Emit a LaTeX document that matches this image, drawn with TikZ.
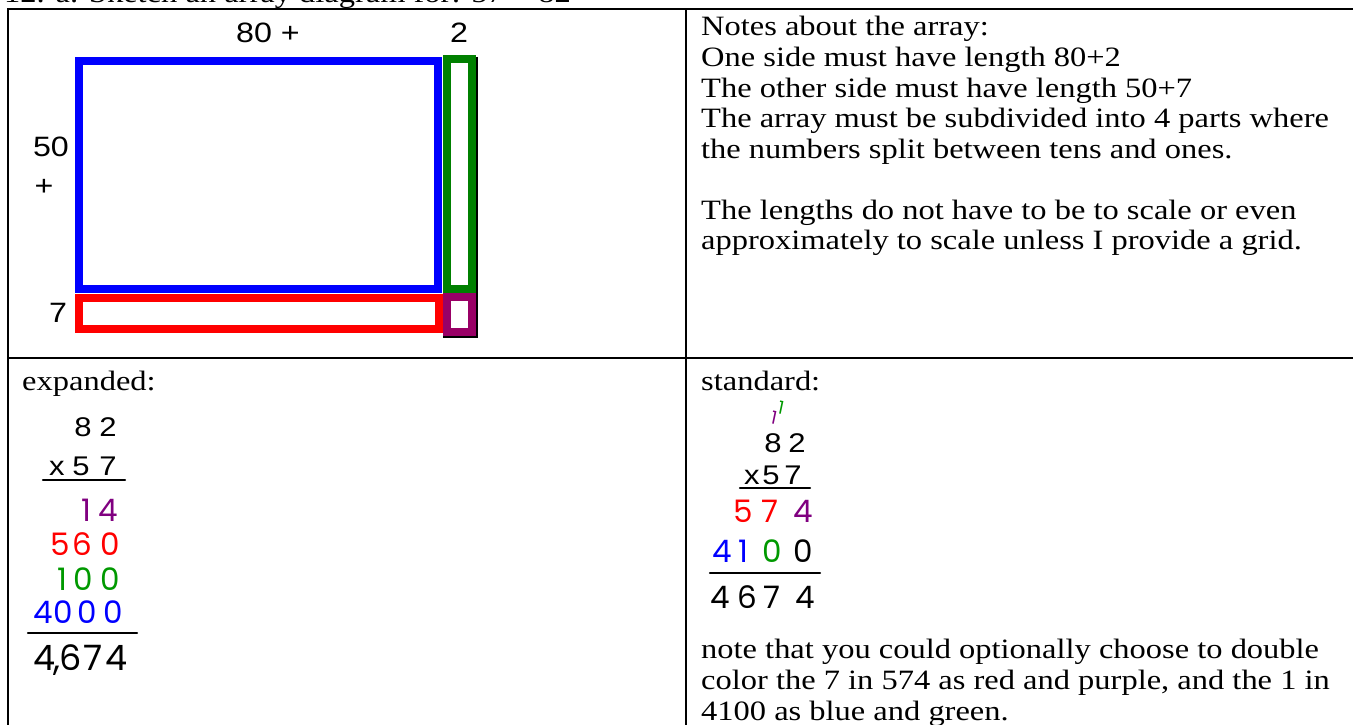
\documentclass[tikz,border=0pt]{standalone}
\usepackage{fontspec}
\setmainfont{Liberation Serif}[FakeStretch=1.16]
\newfontfamily\arialf{Liberation Sans}[FakeStretch=1.15]
\newfontfamily\hwf{Poppins}
\begin{document}
\begin{tikzpicture}[x=1pt,y=-1pt,
  txt/.style={anchor=base west, inner sep=0pt, font=\fontsize{28}{31}\selectfont},
  lbl/.style={inner sep=0pt, font=\arialf\fontsize{28}{28}\selectfont},
  prn/.style={inner sep=0pt, font=\arialf\fontsize{27}{27}\selectfont},
  hwd/.style={inner sep=0pt, font=\hwf\fontsize{31}{31}\selectfont},
  hwbig/.style={inner sep=0pt, font=\hwf\fontsize{35}{35}\selectfont},
  carry/.style={inner sep=0pt, font=\hwf\fontsize{18}{18}\selectfont, rotate=-12},
  cellbox/.style={line width=8pt},
  tabrule/.style={line width=2.5pt},
  sumrule/.style={line width=2.4pt, line cap=round},
  shadow/.style={line width=1.6pt, black}
]
\useasboundingbox (0,0) rectangle (1353,725);
\clip (0,0) rectangle (1353,725);
\fill[white] (0,0) rectangle (1353,725);

% title (clipped at top)
\node[txt] (title) at (4,3) {12. a. Sketch an array diagram for: 57 × 82};

% table rules
\draw[tabrule] (1353,9) -- (8,9) -- (8,725);
\draw[tabrule] (686,9) -- (686,725);
\draw[tabrule] (8,358) -- (1353,358);

% array diagram
\draw[shadow] (477,57) -- (477,337) -- (443,337);
\draw[cellbox, blue] (79,61) rectangle (438,289);
\draw[cellbox, green!50!black] (447,59) rectangle (472,289);
\draw[cellbox, red] (79,298) rectangle (439,329);
\draw[cellbox, violet!60!purple] (447,297) rectangle (472,332);

\node[lbl] (l80) at (268,33) {80 +};
\node[lbl] (l2) at (459,33) {2};
\node[lbl] (l50) at (51,147) {50};
\node[lbl] (lplus) at (44,187) {+};
\node[lbl] (l7) at (58,313) {7};

% notes
\node[txt] (n1) at (701,36) {Notes about the array:};
\node[txt] (n2) at (701,66.5) {One side must have length 80+2};
\node[txt] (n3) at (701,97) {The other side must have length 50+7};
\node[txt] (n4) at (701,127.5) {The array must be subdivided into 4 parts where};
\node[txt] (n5) at (701,158) {the numbers split between tens and ones.};
\node[txt] (n6) at (701,219) {The lengths do not have to be to scale or even};
\node[txt] (n7) at (701,249.5) {approximately to scale unless I provide a grid.};

% expanded
\node[txt] (exph) at (22,390) {expanded:};
\node[prn] (e8) at (83,427) {8};
\node[prn] (e2) at (108,427) {2};
\node[prn] (ex) at (57,468) {x};
\node[prn] (e5) at (81,466) {5};
\node[prn] (e7) at (108,466) {7};
\draw[sumrule] (43,480) -- (125,480);
\node[hwd, violet] (p1) at (86,510) {1};
\node[hwd, violet] (p4) at (108,510) {4};
\node[hwd, red] (r5) at (60,544) {5};
\node[hwd, red] (r6) at (82,544) {6};
\node[hwd, red] (r0) at (110,544) {0};
\node[hwd, green!60!black] (g1) at (62,579) {1};
\node[hwd, green!60!black] (g0a) at (83,579) {0};
\node[hwd, green!60!black] (g0b) at (110,579) {0};
\node[hwd, blue] (b4) at (43,612) {4};
\node[hwd, blue] (b0a) at (63,612) {0};
\node[hwd, blue] (b0b) at (87,612) {0};
\node[hwd, blue] (b0c) at (113,612) {0};
\draw[sumrule] (28,633) -- (137,633);
\node[hwbig] (t4a) at (45,658) {4};
\node[hwbig, anchor=base] (tc) at (57,670) {,};
\node[hwbig] (t6) at (71,658) {6};
\node[hwbig] (t7) at (93,658) {7};
\node[hwbig] (t4b) at (117,658) {4};

% standard
\node[txt] (stdh) at (701,390) {standard:};
\node[carry, violet] (c1) at (774,418) {1};
\node[carry, green!60!black] (c2) at (781,408) {1};
\node[prn] (s8) at (773,443) {8};
\node[prn] (s2) at (797,443) {2};
\node[prn] (sx) at (752,477) {x};
\node[prn] (s5) at (771,475) {5};
\node[prn] (s7) at (793,475) {7};
\draw[sumrule] (740,488) -- (810,488);
\node[hwd, red] (sr5) at (743,511) {5};
\node[hwd, red] (sr7) at (770,511) {7};
\node[hwd, violet] (sp4) at (803,511) {4};
\node[hwd, blue] (sb4) at (722,551) {4};
\node[hwd, blue] (sb1) at (743,551) {1};
\node[hwd, green!60!black] (sg0) at (772,551) {0};
\node[hwd] (sk0) at (803,551) {0};
\draw[sumrule] (710,573) -- (820,573);
\node[hwd] (f4a) at (720,597) {4};
\node[hwd] (f6) at (747,597) {6};
\node[hwd] (f7) at (772,597) {7};
\node[hwd] (f4b) at (805,597) {4};

\node[txt] (m1) at (701,658) {note that you could optionally choose to double};
\node[txt] (m2) at (701,689) {color the 7 in 574 as red and purple, and the 1 in};
\node[txt] (m3) at (701,720) {4100 as blue and green.};
\end{tikzpicture}
\end{document}
